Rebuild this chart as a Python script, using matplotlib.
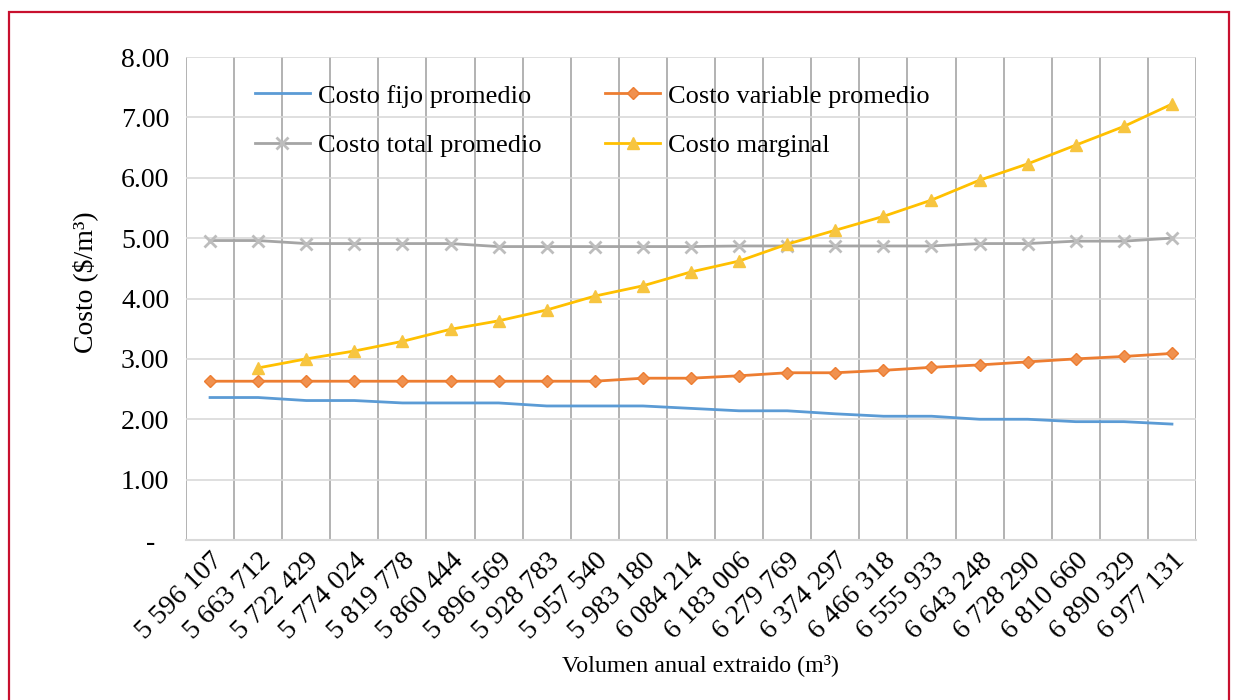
import matplotlib
matplotlib.use("Agg")
import matplotlib.pyplot as plt
from matplotlib.patches import Rectangle
from matplotlib.ticker import FuncFormatter

# ── Data ──────────────────────────────────────────────────────────────────────
volumen = ["5 596 107", "5 663 712", "5 722 429", "5 774 024", "5 819 778",
           "5 860 444", "5 896 569", "5 928 783", "5 957 540", "5 983 180",
           "6 084 214", "6 183 006", "6 279 769", "6 374 297", "6 466 318",
           "6 555 933", "6 643 248", "6 728 290", "6 810 660", "6 890 329",
           "6 977 131"]

costo_fijo = [2.36, 2.36, 2.31, 2.31, 2.27, 2.27, 2.27, 2.22, 2.22, 2.22,
              2.18, 2.14, 2.14, 2.09, 2.05, 2.05, 2.00, 2.00, 1.96, 1.96, 1.92]
costo_variable = [2.63, 2.63, 2.63, 2.63, 2.63, 2.63, 2.63, 2.63, 2.63, 2.68,
                  2.68, 2.72, 2.77, 2.77, 2.81, 2.86, 2.90, 2.95, 3.00, 3.04, 3.09]
costo_total = [4.96, 4.96, 4.91, 4.91, 4.91, 4.91, 4.86, 4.86, 4.86, 4.86,
               4.86, 4.87, 4.87, 4.87, 4.87, 4.87, 4.91, 4.91, 4.95, 4.95, 5.00]
# marginal cost starts at the second volume level
costo_marginal = [None, 2.85, 3.00, 3.13, 3.29, 3.49, 3.63, 3.81, 4.04, 4.21,
                  4.44, 4.62, 4.90, 5.13, 5.36, 5.63, 5.96, 6.23, 6.54, 6.85, 7.22]

plt.rcParams["font.family"] = ["Liberation Serif", "DejaVu Serif"]
plt.rcParams["font.size"] = 19

W, H = 1238, 700
fig = plt.figure(figsize=(W / 100, H / 100), dpi=100)
ax = fig.add_axes([186 / W, 1 - 540 / H, (1196 - 186) / W, (540 - 57) / H])

x = list(range(len(volumen)))
l_fijo, = ax.plot(x, costo_fijo, color="#5b9bd5", lw=2.0, label="Costo fijo promedio")
l_var, = ax.plot(x, costo_variable, color="#ed7d31", lw=2.0, marker="D", ms=6,
                 mfc="#f0914f", mec="#ed7d31", label="Costo variable promedio")
l_tot, = ax.plot(x, costo_total, color="#a5a5a5", lw=2.0, marker="x", ms=9, mew=2,
                 mec="#bdbdbd", label="Costo total promedio")
xm = [i for i, v in zip(x, costo_marginal) if v is not None]
ym = [v for v in costo_marginal if v is not None]
l_marg, = ax.plot(xm, ym, color="#ffc000", lw=2.0, marker="^", ms=8,
                  mfc="#f7c540", mec="#f7c540", label="Costo marginal")

ax.set_xlim(-0.5, len(volumen) - 0.5)
ax.set_ylim(0, 8)
ax.set_yticks([0, 1, 2, 3, 4, 5, 6, 7, 8])
ax.yaxis.set_major_formatter(FuncFormatter(lambda v, p: "-  " if v == 0 else f"{v:.2f}"))

# horizontal grid on value ticks, vertical grid between categories
ax.set_axisbelow(True)
ax.grid(axis="y", color="#d9d9d9", lw=1.2)
for b in range(len(volumen) + 1):
    ax.axvline(b - 0.5, color="#a6a6a6", lw=1.2, zorder=0.5)

ax.set_xticks(x)
ax.set_xticklabels(volumen, rotation=45, ha="right", rotation_mode="anchor")
ax.tick_params(axis="x", length=0, pad=6, labelsize=20)
ax.tick_params(axis="y", length=0, pad=12, labelsize=20)
for s in ["top", "right", "left"]:
    ax.spines[s].set_visible(False)
ax.spines["bottom"].set_color("#d9d9d9")
ax.spines["bottom"].set_linewidth(1.5)

ax.set_ylabel("Costo ($/m³)", fontsize=20, va="center")
ax.yaxis.set_label_coords(85 / W, 1 - 282 / H, transform=fig.transFigure)
fig.text(700 / W, 1 - 665 / H, "Volumen anual extraido (m³)", ha="center",
         va="center", fontsize=17.3)

ax.legend([l_fijo, l_tot, l_var, l_marg],
          [l.get_label() for l in (l_fijo, l_tot, l_var, l_marg)],
          loc="upper left", bbox_to_anchor=(0.068, 0.944), ncol=2,
          frameon=False, fontsize=19, handlelength=2.1, handletextpad=0.3,
          columnspacing=2.4, labelspacing=1.0, borderpad=0, borderaxespad=0)

# red frame around the whole figure
fig.patches.append(Rectangle((9 / W, -0.05), (1229 - 9) / W, 1.05 - 12 / H,
                             transform=fig.transFigure, fill=False,
                             edgecolor="#c8102e", lw=1.6))

fig.savefig("out.png", dpi=100)
